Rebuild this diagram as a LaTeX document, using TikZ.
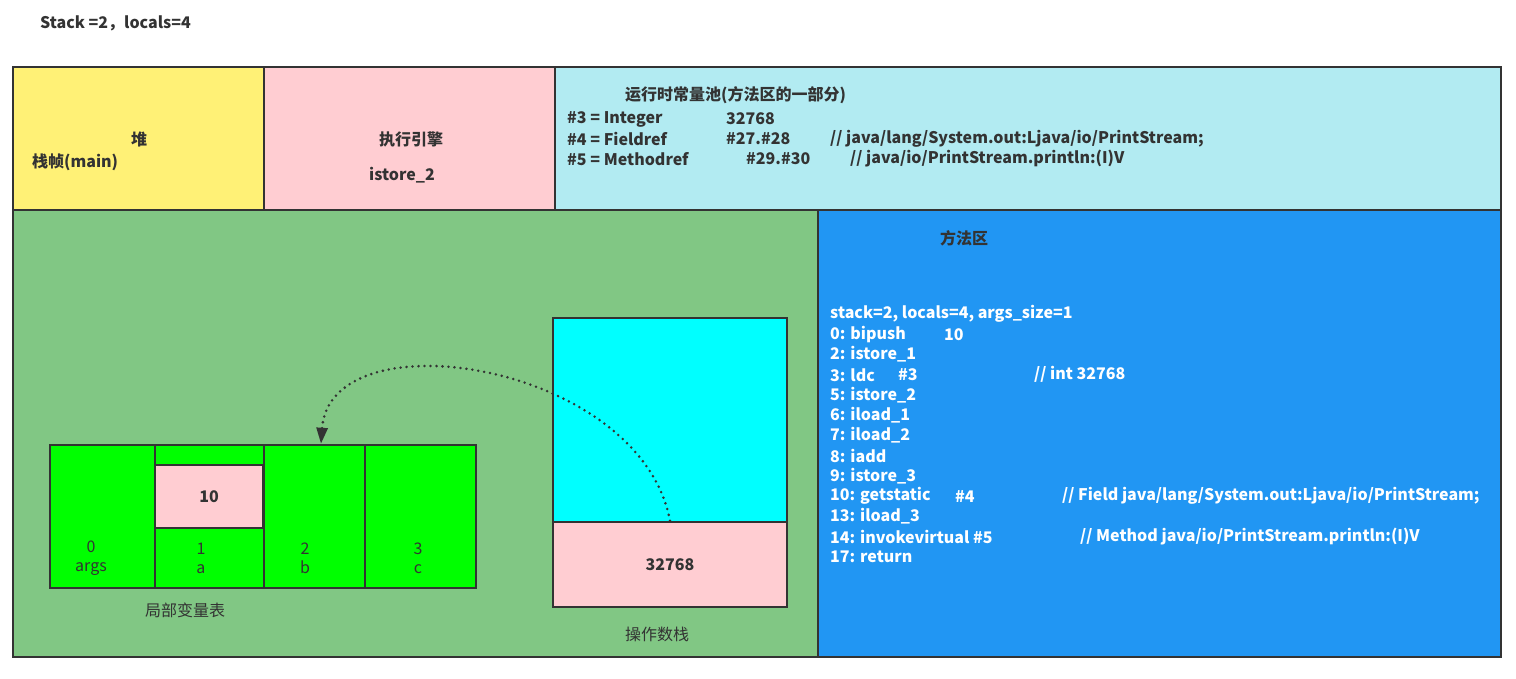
\documentclass[tikz,border=0pt]{standalone}
\usepackage{fontspec}
\setmainfont{Noto Sans CJK SC}
\usetikzlibrary{arrows.meta}
\definecolor{jvmline}{HTML}{333333}
\definecolor{jvmyellow}{HTML}{FFF176}
\definecolor{jvmpink}{HTML}{FFCDD2}
\definecolor{jvmcyan}{HTML}{B2EBF2}
\definecolor{jvmgreen}{HTML}{81C784}
\definecolor{jvmblue}{HTML}{2196F3}
\definecolor{jvmlime}{HTML}{00FF00}
\definecolor{jvmaqua}{HTML}{00FFFF}

\begin{document}
\begin{tikzpicture}[
  x=1pt, y=-1pt,
  every node/.style={font=\fontsize{16}{19}\selectfont\bfseries, text=jvmline},
  area/.style={draw=jvmline, line width=2.5pt, inner sep=0pt},
  txt/.style={anchor=west, inner sep=0pt},
  plain/.style={font=\fontsize{16}{19}\selectfont, align=center, inner sep=0pt},
  code/.style={anchor=west, inner sep=0pt, text=white},
]
\useasboundingbox (0,0) rectangle (1516,679);

% Title
\node[txt] (title) at (40,23) {Stack =2，locals=4};

% Top row — heap, execution engine, constant pool
\node[area, fill=jvmyellow, minimum width=251pt, minimum height=143pt] (heap) at (138.5,138.5) {};
\node[area, fill=jvmpink, minimum width=291pt, minimum height=143pt] (engine) at (409.5,138.5) {};
\node[area, fill=jvmcyan, minimum width=946pt, minimum height=143pt] (pool) at (1028,138.5) {};

\node (heaplbl) at (139,139) {堆};
\node[txt] (framelbl) at (32,162) {栈帧(main)};
\node (englbl) at (411,139) {执行引擎};
\node (engop) at (402,175) {istore\_2};

\node[txt] (pooltitle) at (625,95) {运行时常量池(方法区的一部分)};
\node[txt] (pool3) at (567,119) {\#3 = Integer};
\node[txt] (pool3v) at (726,119) {32768};
\node[txt] (pool4) at (567,139) {\#4 = Fieldref};
\node[txt] (pool4v) at (726,139) {\#27.\#28};
\node[txt] (pool4c) at (830,139) {// java/lang/System.out:Ljava/io/PrintStream;};
\node[txt] (pool5) at (567,159) {\#5 = Methodref};
\node[txt] (pool5v) at (746,159) {\#29.\#30};
\node[txt] (pool5c) at (850,159) {// java/io/PrintStream.println:(I)V};

% Bottom row — stack frame and method area
\node[area, fill=jvmgreen, minimum width=805pt, minimum height=447pt] (frame) at (415.5,433.5) {};
\node[area, fill=jvmblue, minimum width=683pt, minimum height=447pt] (method) at (1159.5,433.5) {};

\node (methlbl) at (964,238) {方法区};
\foreach \line [count=\i from 0] in {{stack=2, locals=4, args\_size=1}, {0: bipush}, {2: istore\_1},
    {3: ldc}, {5: istore\_2}, {6: iload\_1}, {7: iload\_2}, {8: iadd}, {9: istore\_3},
    {10: getstatic}, {13: iload\_3}, {14: invokevirtual \#5}, {17: return}}
  \node[code] (op\i) at (830,314+20.25*\i) {\line};
\node[code] (op1v) at (944,334.25) {10};
\node[code] (op3v) at (898,374.75) {\#3};
\node[code] (op3c) at (1034,374.75) {// int 32768};
\node[code] (op9v) at (955,496.25) {\#4};
\node[code] (op9c) at (1062,496.25) {// Field java/lang/System.out:Ljava/io/PrintStream;};
\node[code] (op11c) at (1080,536.75) {// Method java/io/PrintStream.println:(I)V};

% Local variable table
\node[area, fill=jvmlime, minimum width=105pt, minimum height=143pt] (lv0) at (102.5,516.5) {};
\node[area, fill=jvmlime, minimum width=109pt, minimum height=143pt] (lv1) at (209.5,516.5) {};
\node[area, fill=jvmlime, minimum width=101pt, minimum height=143pt] (lv2) at (314.5,516.5) {};
\node[area, fill=jvmlime, minimum width=111pt, minimum height=143pt] (lv3) at (420.5,516.5) {};
\node[area, fill=jvmpink, minimum width=108pt, minimum height=63pt] (lv1val) at (209,496.5) {10};
\node[plain] (lv0lbl) at (91,558) {0\\args};
\node[plain] (lv1lbl) at (201,558) {1\\a};
\node[plain] (lv2lbl) at (305,558) {2\\b};
\node[plain] (lv3lbl) at (418,558) {3\\c};
\node[plain] (lvtitle) at (185,610) {局部变量表};

% Operand stack
\node[area, fill=jvmaqua, minimum width=234pt, minimum height=204pt] (opstack) at (670,420) {};
\node[area, fill=jvmpink, minimum width=234pt, minimum height=85pt] (opval) at (670,564.5) {32768};
\node[plain] (optitle) at (657,634) {操作数栈};

% ldc result moved into slot 2
\draw[jvmline, line width=2.8pt, dash pattern=on 0pt off 6pt, line cap=round,
      -{Triangle[length=16pt,width=11pt]}]
  (opval.north) .. controls (640,362) and (330,315) .. ([xshift=6.5pt]lv2.north);
\end{tikzpicture}
\end{document}
